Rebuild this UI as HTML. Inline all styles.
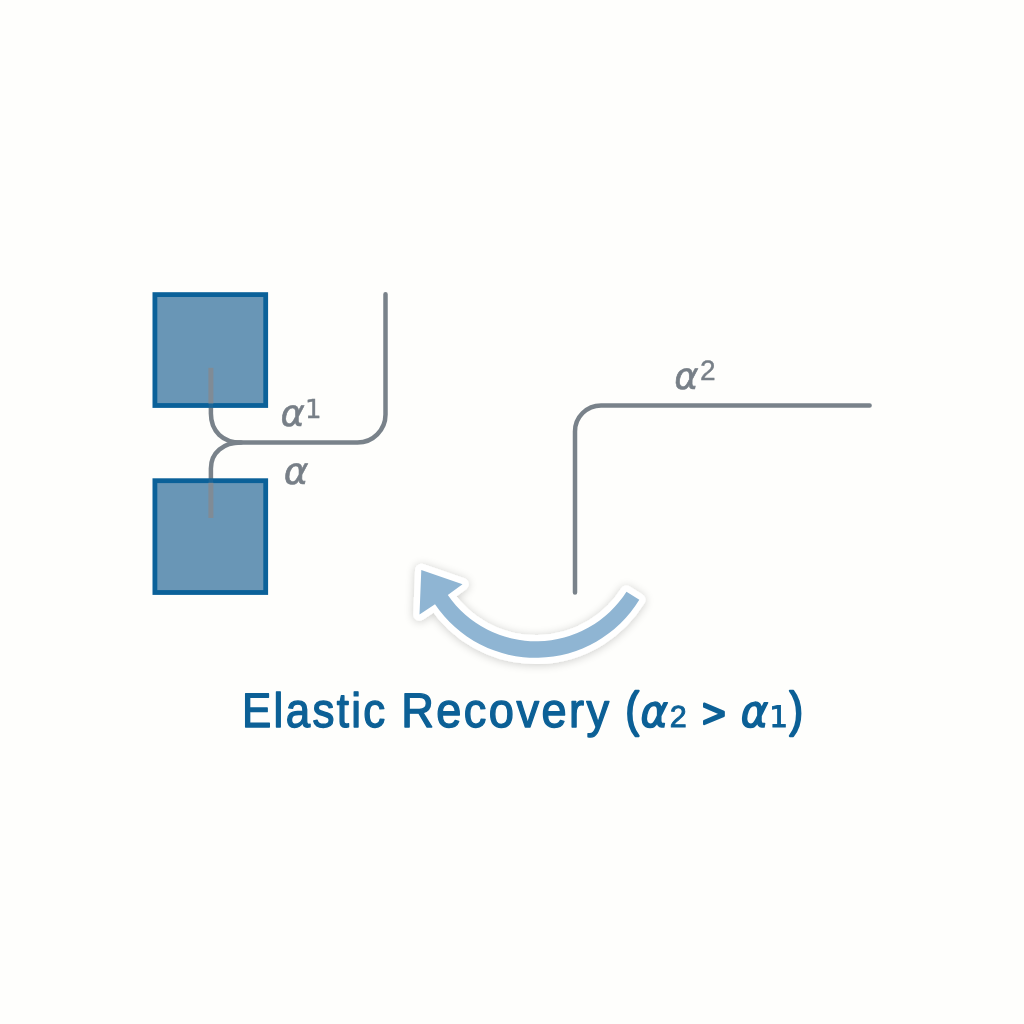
<!DOCTYPE html>
<html lang="en">
<head>
<meta charset="utf-8">
<title>Elastic Recovery</title>
<style>
html,body{margin:0;padding:0;background:#fefefc;}
body{width:1024px;height:1024px;overflow:hidden;position:relative;font-family:"Liberation Sans",sans-serif;}
svg{position:absolute;left:0;top:0;display:block;opacity:0.999;will-change:transform;}
text{-webkit-font-smoothing:antialiased;text-rendering:geometricPrecision;}
.lbl{font-family:"DejaVu Sans","Liberation Sans",sans-serif;font-style:italic;fill:#777f87;stroke:#777f87;stroke-width:0.6;}
.sup{font-family:"Liberation Sans",sans-serif;font-style:normal;fill:#777f87;stroke:#777f87;stroke-width:0.4;}
.ttl{font-family:"Liberation Sans",sans-serif;font-weight:normal;fill:#0c6096;stroke:#0c6096;stroke-width:1.4;stroke-linejoin:round;}
.ttla{font-family:"DejaVu Sans","Liberation Sans",sans-serif;font-style:italic;font-weight:normal;fill:#0c6096;stroke:#0c6096;stroke-width:1.5;stroke-linejoin:round;}
.ttls{font-family:"Liberation Sans",sans-serif;font-weight:normal;fill:#0c6096;stroke:#0c6096;stroke-width:0.9;}
</style>
</head>
<body>
<svg width="1024" height="1024" viewBox="0 0 1024 1024">
  <defs>
    <filter id="sh" x="-20%" y="-40%" width="140%" height="180%">
      <feGaussianBlur in="SourceAlpha" stdDeviation="5"/>
      <feOffset dx="0" dy="1" result="b"/>
      <feComponentTransfer><feFuncA type="linear" slope="0.2"/></feComponentTransfer>
      <feMerge><feMergeNode/><feMergeNode in="SourceGraphic"/></feMerge>
    </filter>
  </defs>
  <rect x="0" y="0" width="1024" height="1024" fill="#fefefc"/>

  <!-- connector lines (left figure) -->
  <g fill="none" stroke="#79828a" stroke-width="4.5" stroke-linecap="round">
    <path d="M210.9 406 V413.6 C210.9 431.5 223 442.6 241 442.6 H357.5 A28 28 0 0 0 385.5 414.6 V294.3"/>
    <path d="M210.9 480 V468.5 C210.9 452.5 223.5 442.6 241 442.6"/>
  </g>

  <!-- squares -->
  <rect x="154.9" y="294.6" width="110.8" height="110.9" fill="#6996b6" stroke="#0b6199" stroke-width="4.8"/>
  <rect x="154.9" y="480.7" width="110.8" height="111.8" fill="#6996b6" stroke="#0b6199" stroke-width="4.8"/>
  <g fill="none" stroke="#808b95" stroke-width="5" stroke-linecap="butt">
    <path d="M210.9 367.8 V403.4"/>
    <path d="M210.9 482.8 V518"/>
  </g>
  <g fill="none" stroke="#79828a" stroke-opacity="0.15" stroke-width="4.5" stroke-linecap="butt">
    <path d="M210.9 403.4 V408"/>
    <path d="M210.9 478.3 V482.8"/>
  </g>

  <!-- right figure -->
  <path d="M575 592.5 V431.4 A26 26 0 0 1 601 405.4 H869.6" fill="none" stroke="#79828a" stroke-width="4.5" stroke-linecap="round"/>

  <!-- labels -->
  <text><tspan class="lbl" x="280.4" y="426.2" font-size="37.2" textLength="24.2" lengthAdjust="spacingAndGlyphs">α</tspan><tspan class="sup" x="305" y="418" font-size="26" style="font-family:'DejaVu Sans',sans-serif">1</tspan></text>
  <text class="lbl" x="283.7" y="484.3" font-size="37.2" textLength="24.6" lengthAdjust="spacingAndGlyphs">α</text>
  <text><tspan class="lbl" x="674.3" y="388.7" font-size="37.2" textLength="24.2" lengthAdjust="spacingAndGlyphs">α</tspan><tspan class="sup" x="700" y="380" font-size="28">2</tspan></text>

  <!-- curved arrow -->
  <path filter="url(#sh)" d="M626.5 591.65 A107.3 107.3 0 0 1 447.8 595.1 L462.5 584.2 L421.3 570 L419.5 614.5 L435 604.2 A121.6 122 0 0 0 639.3 599.8 Z" fill="#ffffff" stroke="#ffffff" stroke-width="12.5" stroke-linejoin="round"/>
  <path d="M626.5 591.65 A107.3 107.3 0 0 1 447.8 595.1 L462.5 584.2 L421.3 570 L419.5 614.5 L435 604.2 A121.6 122 0 0 0 639.3 599.8 Z" fill="#8fb5d3"/>

  <!-- title -->
  <text><tspan class="ttl" x="242" y="727" font-size="48.5" letter-spacing="2.6" textLength="145.6" lengthAdjust="spacingAndGlyphs">Elastic</tspan> <tspan class="ttl" x="401.2" y="727" font-size="48.5" letter-spacing="2.6" textLength="210.3" lengthAdjust="spacingAndGlyphs">Recovery</tspan> <tspan class="ttl" x="625.6" y="725.6" font-size="48.5" textLength="13.5" lengthAdjust="spacingAndGlyphs" style="stroke-width:2.2">(</tspan><tspan class="ttla" x="640.4" y="727" font-size="44.5" textLength="27.5" lengthAdjust="spacingAndGlyphs">α</tspan><tspan class="ttls" x="669.8" y="727.2" font-size="30.5">2</tspan> <tspan class="ttl" x="702.2" y="727" font-size="40" style="stroke-width:2.4">&gt;</tspan> <tspan class="ttla" x="740.8" y="727" font-size="44.5" textLength="27.5" lengthAdjust="spacingAndGlyphs">α</tspan><tspan class="ttls" x="769.3" y="727.2" font-size="29.5" style="font-family:'DejaVu Sans',sans-serif">1</tspan><tspan class="ttl" x="789.6" y="725.6" font-size="48.5" textLength="13.5" lengthAdjust="spacingAndGlyphs" style="stroke-width:2.2">)</tspan></text>
</svg>
</body>
</html>
